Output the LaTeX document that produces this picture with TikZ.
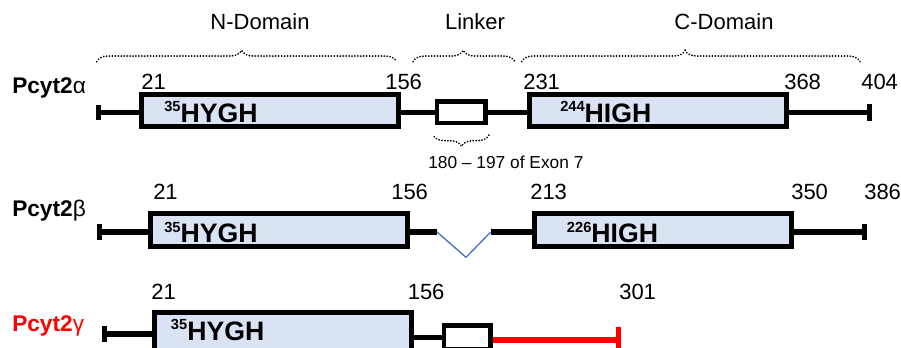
\documentclass[tikz,border=0pt]{standalone}
\usepackage{fontspec}
\setmainfont{Liberation Sans}
\usetikzlibrary{arrows.meta,decorations.pathreplacing}
\definecolor{domainfill}{HTML}{DAE3F3}
\definecolor{skipblue}{HTML}{4472C4}
\definecolor{isored}{HTML}{FF0000}
% motif label: small raised residue number followed by the motif
\newcommand\motif[2]{\textbf{\raisebox{8pt}{\fontsize{11pt}{11pt}\selectfont #1}#2}}

\begin{document}
\begin{tikzpicture}[x=0.75pt,y=-0.75pt,
  domainbox/.style={draw=black, line width=3.7pt, fill=domainfill,
    minimum width=192.6pt, minimum height=24.5pt, inner sep=0pt},
  linkbox/.style={draw=black, line width=3.2pt, fill=white,
    minimum width=36.3pt, minimum height=16.4pt, inner sep=0pt},
  conn/.style={line width=4pt},
  num/.style={anchor=base west, inner sep=0pt, font=\fontsize{16.5pt}{16.5pt}\selectfont},
  head/.style={anchor=base, inner sep=0pt, font=\fontsize{16.5pt}{16.5pt}\selectfont},
  iso/.style={anchor=base west, inner sep=0pt, font=\fontsize{17pt}{17pt}\selectfont},
  motiflabel/.style={anchor=base west, inner sep=0pt, font=\fontsize{20pt}{20pt}\selectfont},
  dotbrace/.style={decorate, decoration={brace, amplitude=8.5pt, aspect=#1},
    line width=1.3pt, dash pattern=on 0.2pt off 2pt, line cap=round},
  dotbrace/.default=0.5,
]
\clip (0,0) rectangle (901,348);

% ---------- domain headers and braces ----------
\node[head] (hN) at (260,29.3) {N-Domain};
\node[head] (hL) at (475,29.3) {Linker};
\node[head] (hC) at (724,29.3) {C-Domain};
\draw[dotbrace=0.483] (96.7,61.7) -- (396.7,61.7);
\draw[dotbrace=0.493] (413,61.7) -- (515,61.7);
\draw[dotbrace=0.483] (521.7,61.7) -- (860,61.7);

% ---------- Pcyt2 alpha ----------
\coordinate (aS) at (95.5,112.5);
\coordinate (aE) at (872,112.5);
\node[domainbox] (a1) at (270.2,110.5) {};
\node[linkbox] (aL) at (461.4,112.4) {};
\node[domainbox] (a2) at (658.3,110.5) {};
\draw[conn,{Bar[width=11.5pt]}-] (aS) -- (aS -| a1.west);
\draw[conn] (aS -| a1.east) -- (aS -| aL.west);
\draw[conn] (aS -| aL.east) -- (aS -| a2.west);
\draw[conn,-{Bar[width=12.5pt]}] (aS -| a2.east) -- (aE);
\draw[dotbrace=0.49] (489,135) -- (433,135);
\node[anchor=base west, inner sep=0pt, font=\fontsize{13pt}{13pt}\selectfont] (ex) at (428,169) {180 – 197 of Exon 7};

\node[iso] (la) at (12,94) {\textbf{Pcyt2}α};
\node[num] (a21) at (141,89.3) {21};
\node[num] (a156) at (385,89.3) {156};
\node[num] (a231) at (523,89.3) {231};
\node[num] (a368) at (784,89.3) {368};
\node[num] (a404) at (861,89.3) {404};
\node[motiflabel] (am1) at (164,122.3) {\motif{35}{HYGH}};
\node[motiflabel] (am2) at (560,122.3) {\motif{244}{HIGH}};

% ---------- Pcyt2 beta ----------
\coordinate (bS) at (96.7,232);
\coordinate (bE) at (867,232);
\coordinate (bV1) at (437,232);
\coordinate (bV) at (466,257.3);
\coordinate (bV2) at (490.7,232);
\node[domainbox] (b1) at (278.8,230.3) {};
\node[domainbox] (b2) at (662.8,230.3) {};
\draw[conn,{Bar[width=11.5pt]}-] (bS) -- (bS -| b1.west);
\draw[conn] (bS -| b1.east) -- (bV1);
\draw[skipblue, line width=1pt] (bV1) -- (bV) -- (bV2);
\draw[conn] (bV2) -- (bS -| b2.west);
\draw[conn,-{Bar[width=12pt]}] (bS -| b2.east) -- (bE);

\node[iso] (lb) at (12,216.7) {\textbf{Pcyt2}β};
\node[num] (b21) at (153,199.3) {21};
\node[num] (b156) at (391,199.3) {156};
\node[num] (b213) at (530,199.3) {213};
\node[num] (b350) at (791,199.3) {350};
\node[num] (b386) at (864,199.3) {386};
\node[motiflabel] (bm1) at (164,243) {\motif{35}{HYGH}};
\node[motiflabel] (bm2) at (566.7,243) {\motif{226}{HIGH}};

% ---------- Pcyt2 gamma ----------
\coordinate (gS) at (101.7,334);
\coordinate (gE) at (621,340);
\node[domainbox, minimum height=30pt] (g1) at (283.3,332.5) {};
\node[linkbox, minimum width=34.9pt, minimum height=18pt] (gL) at (467.2,337.4) {};
\draw[conn,{Bar[width=11.5pt]}-] (gS) -- (gS -| g1.west);
\draw[conn] (gL.west -| g1.east) -- (gL.west);
\draw[isored, line width=3.9pt, -{Bar[width=19pt]}] (gE -| gL.east) -- (gE);

\node[iso, text=isored] (lg) at (12,331.7) {\textbf{Pcyt2}γ};
\node[num] (g21) at (151,300) {21};
\node[num] (g156) at (407.5,300) {156};
\node[num] (g301) at (619,300) {301};
\node[motiflabel] (gm1) at (170.7,340.5) {\motif{35}{HYGH}};
\end{tikzpicture}
\end{document}
